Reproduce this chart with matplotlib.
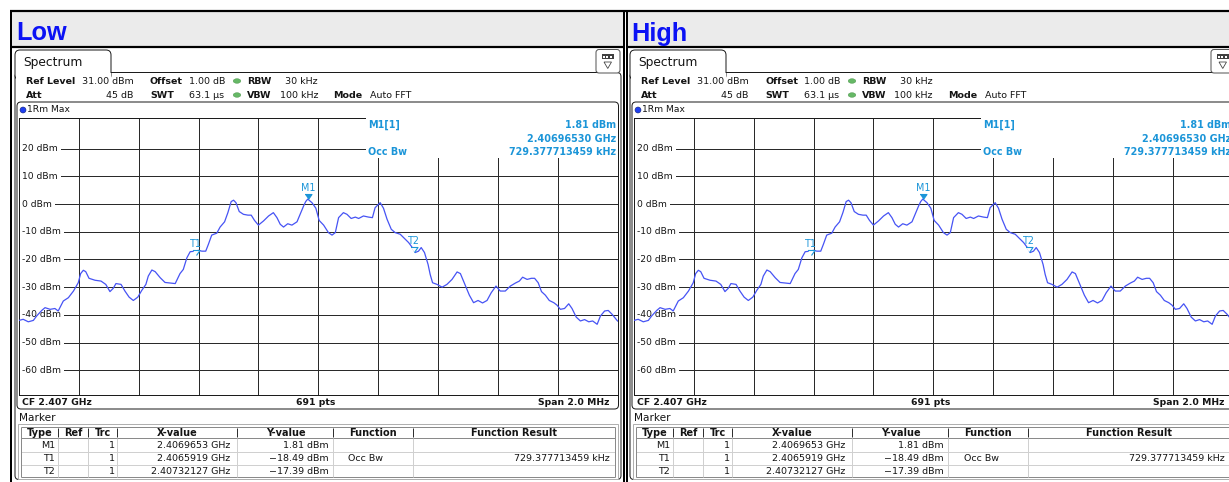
import matplotlib
matplotlib.use("Agg")
import matplotlib.pyplot as plt
from matplotlib.patches import Rectangle, FancyBboxPatch, Ellipse, Polygon
import numpy as np

plt.rcParams["font.family"] = ["DejaVu Sans"]

# ---------------- data ----------------
panel_titles = ["Low", "High"]

start_ghz = 2.406
stop_ghz = 2.408
center_ghz = 2.407
span_mhz = 2.0
n_points = 691
ref_level = 31.0
bottom_level = -69.0
level_ticks = [20, 10, 0, -10, -20, -30, -40, -50, -60]

# max-hold trace: offset from start frequency (kHz) and level (dBm)
trace_khz = [0, 14, 31, 48, 59, 76, 87, 104, 120, 131, 148, 165, 182, 198, 206,
             215, 223, 234, 254, 274, 290, 304, 315, 324, 341, 354, 368, 382, 397,
             410, 424, 432, 444, 455, 472, 488, 505, 522, 538, 549, 561, 572, 589,
             600, 611, 624, 633, 644, 661, 672, 687, 698, 709, 717, 725, 736, 750,
             765, 776, 787, 800, 817, 834, 850, 862, 873, 884, 898, 912, 929, 940,
             951, 958, 965, 979, 992, 1003, 1018, 1034, 1046, 1057, 1068, 1084,
             1096, 1110, 1124, 1135, 1151, 1168, 1181, 1190, 1207, 1218, 1230, 1244,
             1257, 1274, 1288, 1302, 1313, 1324, 1335, 1344, 1355, 1367, 1374, 1382,
             1397, 1414, 1430, 1447, 1464, 1475, 1491, 1505, 1519, 1534, 1549, 1564,
             1578, 1594, 1608, 1625, 1642, 1659, 1672, 1683, 1698, 1712, 1723, 1735,
             1746, 1759, 1772, 1787, 1798, 1809, 1823, 1837, 1848, 1862, 1876, 1890,
             1904, 1917, 1932, 1943, 1957, 1969, 1982, 2000]
trace_dbm = [-42.0, -41.6, -42.5, -42.0, -40.4, -38.4, -37.4, -38.0, -37.7, -38.6,
             -35.0, -33.8, -31.4, -28.4, -25.1, -23.9, -24.4, -26.8, -27.5, -27.8,
             -29.0, -31.6, -30.4, -28.7, -29.0, -31.4, -33.6, -34.8, -33.6, -31.2,
             -29.0, -26.0, -23.8, -24.4, -26.6, -28.3, -28.5, -28.7, -25.1, -23.6,
             -19.4, -17.2, -17.0, -16.7, -17.0, -17.0, -14.5, -11.2, -10.5, -8.3,
             -6.4, -3.1, 0.9, 1.4, 0.5, -2.7, -3.7, -4.0, -4.0, -5.9, -7.6, -6.1,
             -4.3, -3.1, -4.9, -7.3, -8.3, -7.1, -7.6, -6.4, -3.5, -0.7, 0.9, 1.81,
             0.5, -1.5, -5.9, -7.6, -10.3, -11.2, -10.3, -4.9, -3.1, -3.7, -5.2,
             -4.7, -5.2, -4.3, -4.7, -4.9, -1.3, 0.5, -1.5, -5.5, -9.1, -10.3, -10.9,
             -12.4, -13.9, -15.5, -17.5, -17.0, -15.7, -17.5, -21.8, -25.4, -28.4,
             -29.0, -30.0, -29.0, -27.2, -24.5, -25.1, -29.3, -32.9, -35.6, -34.8,
             -35.7, -34.8, -32.0, -29.6, -31.4, -31.4, -29.6, -28.5, -27.8, -26.4,
             -27.2, -26.8, -26.8, -28.4, -31.6, -32.9, -34.8, -35.6, -36.5, -38.0,
             -37.7, -36.0, -37.7, -40.8, -42.2, -41.7, -42.5, -42.2, -43.4, -40.4,
             -38.6, -38.4, -39.8, -42.2]

marker_names = ["M1", "T1", "T2"]
marker_ghz = [2.4069653, 2.4065919, 2.40732127]
marker_dbm = [1.81, -18.49, -17.39]
marker_x_labels = ["2.4069653 GHz", "2.4065919 GHz", "2.40732127 GHz"]
marker_trc = [1, 1, 1]
m1_readout_ghz = "2.40696530 GHz"
occ_bw_khz = "729.377713459 kHz"

table_headers = ["Type", "Ref", "Trc", "X-value", "Y-value", "Function", "Function Result"]

# ---------------- styling ----------------
W, H = 1229, 482
TEXT = "#141414"
LINE = "#1c1c1c"
MARK = "#1b95d8"
TRACE = "#4653f4"
TITLE_BLUE = "#0b12f5"
GREEN = "#66b866"
PX = 0.72  # points per pixel at 100 dpi

fig = plt.figure(figsize=(W / 100, H / 100), dpi=100)
fig.patch.set_facecolor("white")
cv = fig.add_axes([0, 0, 1, 1], zorder=0)
cv.set_xlim(0, W)
cv.set_ylim(H, 0)
cv.axis("off")


def hline(ax, x1, x2, y, c=LINE, lw=1.0, z=3, **kw):
    ax.plot([x1, x2], [y, y], color=c, lw=lw * PX, solid_capstyle="butt", zorder=z, **kw)


def vline(ax, x, y1, y2, c=LINE, lw=1.0, z=3, **kw):
    ax.plot([x, x], [y1, y2], color=c, lw=lw * PX, solid_capstyle="butt", zorder=z, **kw)


def txt(ax, x, y, s, size=6.8, bold=False, ha="left", color=TEXT, z=5, **kw):
    return ax.text(x, y, s, fontsize=size, fontweight="bold" if bold else "normal",
                   ha=ha, va="center", color=color, zorder=z, **kw)


# outer frame line shared by both panels
hline(cv, 10, W, 11, c="black", lw=2.2, z=6)


def draw_panel(dx, title, outer_left, outer_right):
    # title bar
    cv.add_patch(Rectangle((outer_left, 11), outer_right - outer_left, 36,
                           fc="#ebebeb", ec="none", zorder=1))
    hline(cv, outer_left, outer_right, 47, c="black", lw=2.2, z=6)
    vline(cv, outer_left, 10, H, c="black", lw=2.0, z=6)
    vline(cv, outer_right, 10, H, c="black", lw=2.0, z=6)
    cv.text(16 + dx, 40.5, title, fontsize=18.2, fontweight="bold", color=TITLE_BLUE,
            family="Liberation Sans", ha="left", va="baseline", zorder=6)

    # spectrum window and its tab
    cv.add_patch(FancyBboxPatch((15 + dx, 72.5), 606, 407,
                                boxstyle="round,pad=0,rounding_size=4",
                                fc="white", ec=LINE, lw=1 * PX, zorder=2))
    cv.add_patch(FancyBboxPatch((15 + dx, 50), 96, 30,
                                boxstyle="round,pad=0,rounding_size=5",
                                fc="white", ec=LINE, lw=1 * PX, zorder=2.1))
    cv.add_patch(Rectangle((15.7 + dx, 72.9), 95.6, 9, fc="white", ec="none", zorder=2.2))
    txt(cv, 23 + dx, 62.3, "Spectrum", size=8.8)

    # toolbar icon
    cv.add_patch(FancyBboxPatch((596 + dx, 49.5), 24, 23.5,
                                boxstyle="round,pad=0,rounding_size=3",
                                fc="white", ec="#555555", lw=1 * PX, zorder=2.3))
    cv.add_patch(Rectangle((601.5 + dx, 54), 12, 5, fc="#404040", ec="none", zorder=2.4))
    for k in range(3):
        cv.add_patch(Rectangle((603 + dx + 3.3 * k, 55.5), 2, 2, fc="white", ec="none", zorder=2.5))
    cv.add_patch(Polygon([(604 + dx, 62), (611.5 + dx, 62), (607.75 + dx, 68.5)],
                         closed=True, fc="white", ec="#404040", lw=0.8 * PX, zorder=2.5))

    # setting summary
    y1, y2 = 81, 95
    txt(cv, 26 + dx, y1, "Ref Level", bold=True)
    txt(cv, 133.3 + dx, y1, f"{ref_level:.2f} dBm", ha="right")
    txt(cv, 150 + dx, y1, "Offset", bold=True)
    txt(cv, 189 + dx, y1, "1.00 dB")
    txt(cv, 246.7 + dx, y1, "RBW", bold=True)
    txt(cv, 318 + dx, y1, "30 kHz", ha="right")
    txt(cv, 26 + dx, y2, "Att", bold=True)
    txt(cv, 133.3 + dx, y2, "45 dB", ha="right")
    txt(cv, 150 + dx, y2, "SWT", bold=True)
    txt(cv, 189 + dx, y2, "63.1 µs")
    txt(cv, 246.7 + dx, y2, "VBW", bold=True)
    txt(cv, 318 + dx, y2, "100 kHz", ha="right")
    txt(cv, 333.3 + dx, y2, "Mode", bold=True)
    txt(cv, 370 + dx, y2, "Auto FFT")
    for yy in (y1, y2):
        cv.add_patch(Ellipse((237 + dx, yy), 7.5, 4.5, fc=GREEN, ec="#4e9a4e",
                             lw=0.5 * PX, zorder=5))

    # diagram frame
    cv.add_patch(FancyBboxPatch((17 + dx, 102), 601.5, 307,
                                boxstyle="round,pad=0,rounding_size=4",
                                fc="white", ec=LINE, lw=1 * PX, zorder=3))
    cv.add_patch(Ellipse((23 + dx, 110), 6, 6, fc="#1f3ff0", ec="#10206a",
                         lw=0.5 * PX, zorder=5))
    txt(cv, 27 + dx, 110, "1Rm Max", size=6.6)

    # status line under the diagram
    txt(cv, 22 + dx, 402.7, f"CF {center_ghz:.3f} GHz", bold=True, size=6.7)
    txt(cv, 316 + dx, 402.7, f"{n_points} pts", bold=True, size=6.7, ha="center")
    txt(cv, 609.5 + dx, 402.7, f"Span {span_mhz:.1f} MHz", bold=True, size=6.7, ha="right")

    # marker table
    txt(cv, 19 + dx, 417.7, "Marker", size=7.6)
    cv.add_patch(Rectangle((18 + dx, 424), 600, 55, fc="white", ec="#b0b0b0",
                           lw=1 * PX, zorder=3))
    tl, tr = 20.7 + dx, 615 + dx
    row_y = [426.7, 438.3, 451.5, 464.5, 477.3]
    hline(cv, tl, tr, row_y[0], c="#8a8a8a", z=4)
    hline(cv, tl, tr, row_y[1], c="#8a8a8a", z=4)
    hline(cv, tl, tr, row_y[2], c="#d0d0d0", z=4)
    hline(cv, tl, tr, row_y[3], c="#d0d0d0", z=4)
    hline(cv, tl, tr, row_y[4], c="#8a8a8a", z=4)
    vline(cv, tl, row_y[0], row_y[4], c="#8a8a8a", z=4)
    vline(cv, tr, row_y[0], row_y[4], c="#8a8a8a", z=4)
    seps = [58.3, 88.3, 117.3, 237.3, 333.3, 413.3]
    for s in seps:
        vline(cv, s + dx, row_y[0] + 1.5, row_y[1] - 1.5, c="#303030", z=4)
        vline(cv, s + dx, row_y[1], row_y[4], c="#d0d0d0", z=4)
    head_x = [39.5, 73.5, 103.0, 177.3, 285.5, 373.3, 514.0]
    for hx, name in zip(head_x, table_headers):
        txt(cv, hx + dx, 432.7, name, bold=True, size=7.0, ha="center")
    data_y = [445.4, 458.2, 471.0]
    for i, name in enumerate(marker_names):
        yy = data_y[i]
        txt(cv, 55 + dx, yy, name, size=6.8, ha="right")
        txt(cv, 114.5 + dx, yy, str(marker_trc[i]), size=6.8, ha="right")
        txt(cv, 230 + dx, yy, marker_x_labels[i], size=6.8, ha="right")
        txt(cv, 328.5 + dx, yy, f"{marker_dbm[i]:.2f} dBm".replace("-", "\u2212"),
            size=6.8, ha="right")
    txt(cv, 366 + dx, data_y[1], "Occ Bw", size=6.8, ha="center")
    txt(cv, 609.5 + dx, data_y[1], occ_bw_khz, size=6.8, ha="right")

    # ---------------- spectrum diagram ----------------
    PL, PR, PT, PB = 19 + dx, 617.5 + dx, 118.2, 395.2
    ax = fig.add_axes([PL / W, 1 - PB / H, (PR - PL) / W, (PB - PT) / H], zorder=2)
    ax.set_xlim(start_ghz, stop_ghz)
    ax.set_ylim(bottom_level, ref_level)
    ax.set_xticks(np.linspace(start_ghz, stop_ghz, 11)[1:-1])
    ax.set_yticks(level_ticks)
    ax.tick_params(length=0, labelbottom=False, labelleft=False)
    ax.set_axisbelow(True)
    ax.grid(True, color="#2a2a2a", lw=1 * PX)
    for side, sp in ax.spines.items():
        sp.set_color(LINE)
        sp.set_linewidth(1 * PX)
    ax.spines["right"].set_visible(False)

    for lv in level_ticks:
        ax.text(3.2 / (PR - PL), lv, f"{lv} dBm", transform=ax.get_yaxis_transform(),
                fontsize=6.6, ha="left", va="center", color=TEXT, zorder=2,
                bbox=dict(fc="white", ec="none", pad=2.0))

    f_ghz = start_ghz + np.array(trace_khz) / 1e6
    ax.plot(f_ghz, trace_dbm, color=TRACE, lw=0.9, zorder=4)

    # marker readout box
    ax.add_patch(Rectangle((365.5 + dx, 117.2), 252.5, 41, fc="white", ec="none",
                           transform=cv.transData, zorder=3, clip_on=False))
    txt(ax, 368 + dx, 125, "M1[1]", bold=True, size=6.9, color=MARK,
        transform=cv.transData)
    txt(ax, 616 + dx, 125, f"{marker_dbm[0]:.2f} dBm", bold=True, size=6.9,
        color=MARK, ha="right", transform=cv.transData)
    txt(ax, 616 + dx, 138.5, m1_readout_ghz, bold=True, size=6.9, color=MARK,
        ha="right", transform=cv.transData)
    txt(ax, 368 + dx, 152, "Occ Bw", bold=True, size=6.9, color=MARK,
        transform=cv.transData)
    txt(ax, 616 + dx, 152, occ_bw_khz, bold=True, size=6.9, color=MARK,
        ha="right", transform=cv.transData)

    # markers: triangle tip on the marker value
    tri = [(-1.0, 1.43), (1.0, 1.43), (0.0, 0.0)]
    for i, name in enumerate(marker_names):
        filled = name.startswith("M")
        ax.plot([marker_ghz[i]], [marker_dbm[i]], marker=tri, markersize=7.2,
                markerfacecolor=MARK if filled else "white", markeredgecolor=MARK,
                markeredgewidth=0.8, linestyle="none", zorder=6)
        ax.annotate(name, (marker_ghz[i], marker_dbm[i]), xytext=(0, 11.5),
                    textcoords="offset pixels", ha="center", va="center",
                    fontsize=6.9, color=MARK, zorder=6)


draw_panel(0, panel_titles[0], 11, 624)
draw_panel(615, panel_titles[1], 627, W + 5)

fig.savefig("out.png", dpi=100, facecolor="white")
